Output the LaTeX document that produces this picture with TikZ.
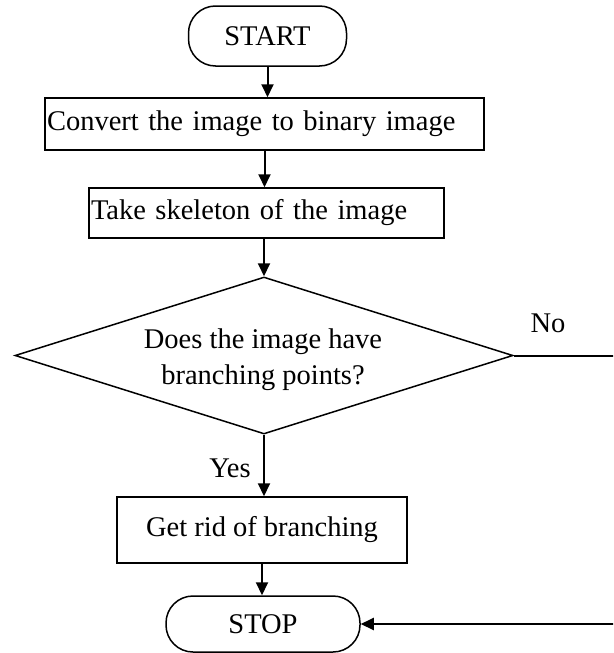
\documentclass[tikz,border=0pt]{standalone}
\usepackage{fontspec}
\setmainfont{Liberation Serif}
\usetikzlibrary{arrows.meta,shapes.geometric,calc}
\begin{document}
\begin{tikzpicture}[x=1pt,y=-1pt,
  every node/.style={font=\fontsize{28.5}{36}\selectfont},
  term/.style={draw,line width=1.5pt,rectangle,rounded corners=27pt,inner sep=0pt},
  proc/.style={draw,line width=1.5pt,rectangle,inner sep=0pt},
  dec/.style={draw,line width=1.5pt,diamond,inner sep=0pt,aspect=3.17},
  arr/.style={line width=2pt,-{Triangle[length=13pt,width=12pt]}},
  conn/.style={line width=2pt},
  lbl/.style={inner sep=0pt}]
\useasboundingbox (0,0) rectangle (613,653);
\clip (0,0) rectangle (613,653);
\node[term,minimum width=158pt,minimum height=60pt] (start) at (267.5,36) {START};
\node[proc,minimum width=439pt,minimum height=52pt,text width=435pt,align=left] (b1) at (264.5,124) {Convert the image to binary image};
\node[proc,minimum width=355pt,minimum height=50pt,text width=351pt,align=left] (b2) at (266.5,213) {Take skeleton of the image};
\node[dec,minimum width=498pt,minimum height=157pt] (dec) at (264,355.5) {};
\node[lbl,align=center] (dectext) at (263,360) {Does the image have\\branching points?};
\node[proc,minimum width=290pt,minimum height=66pt] (b3) at (262,530) {Get rid of branching};
\node[term,minimum width=194pt,minimum height=56pt] (stop) at (263,624) {STOP};
\node[lbl] (no) at (548,323) {No};
\node[lbl] (yes) at (230,468) {Yes};
\coordinate (r1) at (630,355.5);
\coordinate (r2) at (630,624);
\draw[arr] (start.south) -- (start.south |- b1.north);
\draw[arr] (b1.south) -- (b1.south |- b2.north);
\draw[arr] (dec.north |- b2.south) -- (dec.north);
\draw[arr] (dec.south) -- (dec.south |- b3.north);
\draw[arr] (b3.south) -- (b3.south |- stop.north);
\draw[conn] (dec.east) -- (r1) -- (r2);
\draw[arr] (r2) -- (stop.east);
\end{tikzpicture}
\end{document}
